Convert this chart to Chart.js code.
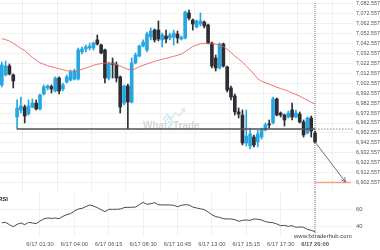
<!DOCTYPE html>
<html><head><meta charset="utf-8">
<script src="https://cdn.jsdelivr.net/npm/chart.js@4.4.1/dist/chart.umd.min.js"></script>
<style>
html,body{margin:0;padding:0;background:#fff;overflow:hidden;}
#wrap{position:relative;width:380px;height:250px;background:#fff;}
canvas{position:absolute;left:0;}
#c1{top:0;} #c2{top:192px;}
</style></head><body>
<div id="wrap"><canvas id="c1" width="380" height="192"></canvas><canvas id="c2" width="380" height="58"></canvas></div>
<script>
// ---- data (15-minute candles, index 0 = first candle) ----
const opens = [7000.9,7011.0,7020.0,7011.0,6968.6,6975.7,6978.7,6971.6,6978.7,6982.7,6976.7,6991.8,6997.9,6999.4,6994.8,7007.9,6996.8,7003.9,7005.9,7006.9,7006.9,7034.2,7037.2,7038.2,7038.2,7046.3,7041.2,7036.2,7007.9,7023.1,7021.1,7009.0,6982.7,6999.9,6983.7,7023.1,7030.1,7040.2,7036.2,7049.3,7056.3,7056.3,7046.3,7050.3,7048.3,7049.3,7052.3,7047.3,7048.3,7073.5,7066.4,7059.4,7062.4,7064.4,7061.4,7043.2,7028.1,7018.0,7042.2,7019.0,6997.9,6989.8,6973.7,6970.6,6942.4,6939.4,6948.4,6943.4,6948.4,6955.5,6961.6,6962.6,6986.8,6972.6,6970.6,6968.6,6975.7,6968.6,6971.6,6963.6,6952.5,6967.6,6952.5];
const highs = [7024.1,7025.1,7022.1,7012.0,6985.8,6988.8,6980.7,6985.8,6986.8,6985.8,6991.8,7000.9,7000.9,7000.9,7009.0,7009.0,7002.9,7011.0,7016.0,7017.0,7038.2,7039.2,7041.2,7043.2,7044.2,7051.3,7042.2,7037.2,7024.1,7028.1,7024.1,7010.0,7000.9,7001.9,7028.1,7033.2,7041.2,7046.3,7054.3,7058.4,7057.4,7065.4,7053.3,7056.3,7053.3,7056.3,7055.3,7050.3,7075.5,7076.5,7067.4,7066.4,7073.5,7065.4,7062.4,7044.2,7031.1,7043.2,7043.2,7020.0,6999.9,6991.8,6977.7,6975.7,6975.7,6957.5,6950.5,6955.5,6957.5,6962.6,6965.6,6988.8,6987.8,6973.7,6971.6,6974.7,6982.7,6975.7,6973.7,6965.6,6968.6,6969.6,6954.5];
const lows = [6998.9,7010.0,7011.0,6997.9,6956.5,6972.6,6962.6,6970.6,6977.7,6975.7,6975.7,6990.8,6995.8,6992.8,6993.8,6991.8,6994.8,7002.9,7004.9,7005.9,7005.9,7032.1,7034.2,7036.2,7036.2,7041.2,7032.1,7002.9,7005.9,7007.9,7003.9,6972.6,6980.7,6956.5,6982.7,7022.1,7029.1,7039.2,7034.2,7046.3,7044.2,7045.3,7039.2,7043.2,7046.3,7041.2,7043.2,7046.3,7047.3,7066.4,7056.3,7058.4,7060.4,7058.4,7042.2,7018.0,7015.0,7017.0,7019.0,6993.8,6985.8,6970.6,6967.6,6940.4,6939.4,6936.4,6938.4,6938.4,6946.4,6954.5,6957.5,6961.6,6969.6,6968.6,6959.5,6967.6,6965.6,6967.6,6962.6,6948.4,6951.5,6948.4,6942.4];
const closes = [7021.1,7020.0,7012.0,7004.9,6977.7,6979.7,6969.6,6979.7,6982.7,6976.7,6990.8,6998.9,6999.9,6996.8,7007.9,6994.8,7000.9,7009.0,7014.0,7015.0,7036.2,7037.2,7039.2,7040.2,7043.2,7042.2,7033.2,7007.9,7022.1,7021.6,7007.9,6978.7,6999.9,6983.7,7023.1,7031.1,7040.2,7044.2,7052.3,7055.3,7046.3,7047.3,7051.3,7047.3,7051.3,7053.3,7048.3,7048.8,7074.5,7068.4,7062.4,7065.4,7065.4,7060.4,7043.2,7020.0,7018.0,7042.2,7020.0,6995.8,6988.8,6973.7,6971.6,6942.4,6949.4,6951.5,6940.4,6951.5,6955.5,6960.6,6960.6,6986.8,6970.6,6970.6,6965.6,6972.6,6968.6,6972.6,6963.6,6950.5,6967.6,6954.5,6943.4];
const movingAvg = [7047.6,7046.6,7045.2,7042.9,7040.5,7037.9,7035.5,7032.1,7028.8,7026.1,7023.1,7021.8,7020.3,7019.3,7018.3,7017.3,7016.3,7015.3,7014.7,7014.7,7015.3,7016.7,7018.0,7019.3,7020.8,7021.8,7022.4,7022.8,7022.8,7022.4,7021.4,7020.0,7018.3,7016.7,7016.0,7017.3,7019.3,7020.8,7022.1,7023.4,7024.8,7025.8,7026.8,7027.8,7028.8,7029.8,7030.8,7032.1,7034.5,7036.9,7039.7,7041.2,7042.5,7042.9,7042.9,7042.6,7042.0,7041.2,7039.7,7036.9,7033.7,7030.1,7027.1,7023.8,7020.0,7016.0,7012.0,7007.2,7004.7,7003.2,7001.7,7000.2,6998.5,6997.3,6996.0,6994.6,6992.8,6991.3,6989.6,6987.5,6985.6,6983.4,6981.7];
const rsiValues = [44.6,45.0,42.3,40.0,42.7,44.3,42.3,45.0,44.3,43.5,46.5,48.9,50.0,49.6,50.0,49.2,51.9,53.8,55.0,58.0,60.3,61.1,63.0,65.0,63.8,61.9,59.6,57.3,60.0,60.0,60.0,60.3,61.9,62.3,62.3,62.6,65.3,68.0,65.7,66.5,67.6,65.3,65.0,65.0,65.0,64.6,63.0,64.6,65.3,65.0,62.6,61.5,60.7,59.6,56.9,53.8,51.5,50.8,49.2,48.9,48.9,48.1,46.2,47.3,47.7,47.3,48.9,48.5,47.7,45.8,45.0,44.6,43.1,41.2,41.6,40.4,41.2,39.3,39.7,39.3,37.0,35.8,34.3];
const tickIdx = [10,19,28,37,46,55,64,73,82];
const tickLabels = ['6/17 01:30','6/17 04:00','6/17 06:15','6/17 08:30','6/17 10:45','6/17 13:00','6/17 15:15','6/17 17:30','6/17 20:00'];
const priceTicks = [6902.557,6912.557,6922.557,6932.557,6942.557,6952.557,6962.557,6972.557,6982.557,6992.557,7002.557,7012.557,7022.557,7032.557,7042.557,7052.557,7062.557,7072.557,7082.557];
const rsiTicks = [40,60];
const supportLevel = 6956.5;
const supportStartIdx = 4;
const nowIdx = 82;
const targetLevel = 6902.557;
const arrowEnd = {x: 90, y: 6903.0};
const targetEndIdx = 91.3;

// ---- view ranges ----
const xMin = -0.471, xMax = 91.94;
const yMin = 6892.98, yMax = 7086.59;
const rMin = 29.3, rMax = 79.9;

const FAM = "'Liberation Sans', Arial, sans-serif";
const BLUE = '#27a6e2', DARK = '#2c2e35';
const candleColors = opens.map((o,i)=> closes[i] >= o ? BLUE : DARK);
const idx = opens.map((_,i)=>i);
const wickData = idx.map(i=>({x:i, y:[lows[i], highs[i]]}));
const bodyData = idx.map(i=>({x:i, y:[opens[i], closes[i]]}));
const maData = idx.map(i=>({x:i, y:movingAvg[i]}));
const rsiData = rsiValues.map((v,i)=>({x:i, y:v}));
const GRID = 'rgba(0,0,0,0.055)';

const fmt = v => v.toLocaleString('en-US',{minimumFractionDigits:3, maximumFractionDigits:3});

function nowLine(chart, y0, y1){
  const ctx = chart.ctx, px = chart.scales.x.getPixelForValue(nowIdx);
  ctx.save();
  ctx.strokeStyle = '#b4b8c0'; ctx.lineWidth = 2; ctx.setLineDash([1,1]);
  ctx.beginPath(); ctx.moveTo(px, y0); ctx.lineTo(px, y1); ctx.stroke();
  ctx.restore();
}

const mainOverlay = {
  id:'mainOverlay',
  beforeDatasetsDraw(chart){
    const ctx = chart.ctx;
    ctx.save();
    // watermark logo
    ctx.strokeStyle = '#d3e8f6'; ctx.lineWidth = 1.4; ctx.lineJoin='round';
    ctx.beginPath(); ctx.moveTo(163,120); ctx.lineTo(167,114.5); ctx.lineTo(171,118.5); ctx.lineTo(175.5,112.5); ctx.lineTo(179,116); ctx.lineTo(184,109.5); ctx.stroke();
    ctx.beginPath(); ctx.moveTo(181,109.5); ctx.lineTo(184.5,109); ctx.lineTo(184.5,112.5); ctx.stroke();
    ctx.beginPath(); ctx.moveTo(165,121.5); ctx.lineTo(168.5,117.5); ctx.lineTo(172,120.5); ctx.stroke();
    ctx.font = 'bold 10px ' + FAM; ctx.textBaseline = 'alphabetic';
    let x = 143; const y = 128.5;
    for (const [t,c] of [['What','#d6d6d6'],['2','#c6e2f4'],['Trade','#d6d6d6']]) {
      ctx.fillStyle = c; ctx.fillText(t, x, y); x += ctx.measureText(t).width;
    }
    ctx.restore();
    nowLine(chart, 3, chart.chartArea.bottom);
  },
  afterDatasetsDraw(chart){
    const ctx = chart.ctx;
    const meta = chart.getDatasetMeta(5);
    const p0 = meta.data[0], p1 = meta.data[1];
    const a = Math.atan2(p1.y - p0.y, p1.x - p0.x), L = 5, s = 0.45;
    ctx.save();
    ctx.strokeStyle = '#6f6f6f'; ctx.lineWidth = 1;
    ctx.beginPath();
    ctx.moveTo(p1.x - L*Math.cos(a - s), p1.y - L*Math.sin(a - s));
    ctx.lineTo(p1.x, p1.y);
    ctx.lineTo(p1.x - L*Math.cos(a + s), p1.y - L*Math.sin(a + s));
    ctx.stroke();
    ctx.restore();
  }
};

new Chart(document.getElementById('c1'), {
  type:'bar',
  data:{ datasets:[
    {type:'line', data:maData, borderColor:'rgba(240,90,90,0.85)', borderWidth:1, pointRadius:0, order:0},
    {data:wickData, backgroundColor:candleColors, barThickness:1, grouped:false, order:3},
    {data:bodyData, backgroundColor:candleColors, barThickness:3, grouped:false, minBarLength:1, order:2},
    {type:'line', data:[{x:supportStartIdx,y:supportLevel},{x:nowIdx,y:supportLevel}], borderColor:'#505050', borderWidth:1.3, pointRadius:0, order:1},
    {type:'line', data:[{x:nowIdx,y:supportLevel},{x:xMax,y:supportLevel}], borderColor:'#8a8a8a', borderWidth:1, borderDash:[1.5,1.5], pointRadius:0, order:1},
    {type:'line', data:[{x:nowIdx,y:closes[nowIdx]},arrowEnd], borderColor:'#6f6f6f', borderWidth:1, pointRadius:0, order:1},
    {type:'line', data:[{x:nowIdx,y:targetLevel},{x:targetEndIdx,y:targetLevel}], borderColor:'#f5a07c', borderWidth:1.4, pointRadius:0, order:1}
  ]},
  options:{
    responsive:false, animation:false, devicePixelRatio:1,
    layout:{padding:0},
    plugins:{legend:{display:false}, tooltip:{enabled:false}},
    scales:{
      x:{type:'linear', min:xMin, max:xMax, offset:false,
         grid:{color:GRID, drawTicks:false}, border:{display:false},
         ticks:{display:false},
         afterBuildTicks:s=>{ s.ticks = tickIdx.map(v=>({value:v})); },
         afterFit:s=>{ s.height = 0; s.paddingLeft = 0; s.paddingRight = 0; }},
      y:{type:'linear', position:'right', min:yMin, max:yMax,
         grid:{color:GRID, drawTicks:false}, border:{display:false},
         ticks:{autoSkip:false, padding:3, color:'#555', font:{size:5.4, family:FAM}, callback:v=>fmt(v)},
         afterBuildTicks:s=>{ s.ticks = priceTicks.map(v=>({value:v})); },
         afterFit:s=>{ s.width = 27; s.paddingTop = 0; s.paddingBottom = 0; }}
    }
  },
  plugins:[mainOverlay]
});

const rsiOverlay = {
  id:'rsiOverlay',
  beforeDatasetsDraw(chart){ nowLine(chart, 0, 42); },
  afterDraw(chart){
    const ctx = chart.ctx;
    ctx.save();
    ctx.fillStyle = '#222'; ctx.font = 'bold 6px ' + FAM; ctx.textBaseline = 'middle';
    ctx.fillText('RSI', -2, 7);
    ctx.fillStyle = '#3a3a3a'; ctx.font = '6px ' + FAM;
    ctx.fillText('www.fxtraderhub.com', 294, 44);
    ctx.restore();
  }
};

new Chart(document.getElementById('c2'), {
  type:'line',
  data:{ datasets:[
    {data:rsiData, borderColor:'#4a4a4a', borderWidth:1, pointRadius:0, tension:0}
  ]},
  options:{
    responsive:false, animation:false, devicePixelRatio:1,
    layout:{padding:0},
    plugins:{legend:{display:false}, tooltip:{enabled:false}},
    scales:{
      x:{type:'linear', min:xMin, max:xMax, offset:false,
         grid:{color:GRID, drawTicks:false}, border:{display:false},
         ticks:{autoSkip:false, maxRotation:0, minRotation:0, padding:5, color:'#555',
                font:c=>({size:5.8, family:FAM, weight:(c.index===tickIdx.length-1)?'bold':'normal'}),
                callback:(v,i)=>tickLabels[i]},
         afterBuildTicks:s=>{ s.ticks = tickIdx.map(v=>({value:v})); },
         afterFit:s=>{ s.height = 14; s.paddingLeft = 0; s.paddingRight = 0; }},
      y:{type:'linear', position:'right', min:rMin, max:rMax,
         grid:{color:GRID, drawTicks:false}, border:{display:false},
         ticks:{autoSkip:false, padding:3, color:'#555', font:{size:5.8, family:FAM}},
         afterBuildTicks:s=>{ s.ticks = rsiTicks.map(v=>({value:v})); },
         afterFit:s=>{ s.width = 27; s.paddingTop = 0; s.paddingBottom = 0; }}
    }
  },
  plugins:[rsiOverlay]
});
</script>
</body></html>
